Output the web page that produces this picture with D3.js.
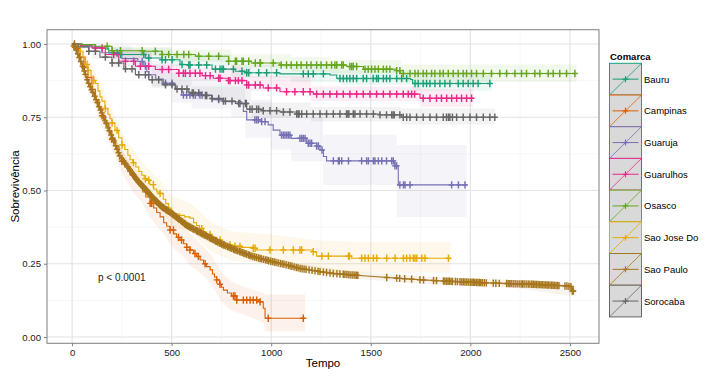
<!DOCTYPE html>
<html><head><meta charset="utf-8">
<script src="https://cdn.jsdelivr.net/npm/d3@7"></script>
<style>body{margin:0;background:#fff}svg{display:block;font-family:"Liberation Sans",Arial,sans-serif}</style>
</head><body><svg id="c" width="705" height="382"></svg>
<script>
// ---------- DATA ----------
const groups = ["Bauru","Campinas","Guaruja","Guarulhos","Osasco","Sao Jose Do","Sao Paulo","Sorocaba"];
const colors = ["#1B9E77","#D95F02","#7570B3","#E7298A","#66A61E","#E6AB02","#A6761D","#666666"];
const xTicks = [0,500,1000,1500,2000,2500];
const yTicks = [0,0.25,0.5,0.75,1];
const pText = "p < 0.0001";

// survival steps [time, survival]
const bauruSurv = [[0,1],[50,0.998],[117,0.986],[184,0.969],[234,0.964],[368,0.952],[452,0.946],[542,0.93],[586,0.928],[703,0.914],[820,0.907],[877,0.902],[1044,0.898],[1295,0.894],[1329,0.882],[1700,0.879],[1710,0.865],[2107,0.865]];
const campinasSurv = [[0,1],[20,0.985],[40,0.955],[60,0.92],[80,0.885],[100,0.845],[117,0.81],[135,0.78],[150,0.755],[167,0.73],[185,0.7],[200,0.675],[217,0.65],[235,0.62],[250,0.6],[265,0.58],[280,0.565],[291,0.553],[310,0.54],[325,0.53],[341,0.519],[355,0.495],[370,0.478],[392,0.456],[410,0.44],[425,0.425],[442,0.41],[460,0.39],[475,0.378],[492,0.365],[510,0.352],[525,0.34],[542,0.331],[560,0.318],[575,0.306],[592,0.297],[610,0.285],[625,0.275],[643,0.263],[660,0.25],[675,0.24],[693,0.229],[705,0.215],[715,0.205],[726,0.195],[740,0.18],[750,0.17],[760,0.16],[780,0.15],[800,0.14],[827,0.126],[944,0.12],[960,0.098],[969,0.064],[1170,0.064]];
const guarujaSurv = [[0,1],[50,0.99],[150,0.97],[250,0.95],[330,0.94],[360,0.925],[375,0.905],[385,0.895],[420,0.88],[458,0.866],[517,0.848],[550,0.826],[700,0.81],[760,0.803],[852,0.797],[860,0.77],[877,0.741],[950,0.735],[985,0.724],[1010,0.706],[1044,0.689],[1100,0.678],[1178,0.661],[1228,0.652],[1245,0.638],[1262,0.616],[1278,0.601],[1621,0.584],[1638,0.519],[1981,0.519]];
const guarulhosSurv = [[0,1],[40,0.995],[100,0.986],[167,0.964],[234,0.941],[318,0.924],[418,0.913],[536,0.9],[653,0.892],[709,0.883],[786,0.875],[877,0.86],[960,0.85],[1044,0.837],[1211,0.829],[1300,0.829],[1747,0.815],[2015,0.815]];
const osascoSurv = [[0,1],[50,0.997],[117,0.992],[200,0.977],[368,0.975],[452,0.964],[619,0.958],[786,0.941],[900,0.935],[1044,0.928],[1379,0.923],[1463,0.914],[1630,0.909],[1647,0.899],[2534,0.899]];
const saoJoseSurv = [[0,1],[15,0.997],[30,0.99],[42,0.975],[55,0.955],[67,0.93],[80,0.91],[95,0.89],[108,0.875],[117,0.865],[130,0.84],[140,0.82],[150,0.805],[165,0.78],[180,0.76],[190,0.745],[200,0.73],[215,0.705],[234,0.68],[250,0.655],[265,0.64],[280,0.62],[291,0.605],[305,0.595],[320,0.58],[335,0.565],[350,0.552],[362,0.54],[375,0.535],[390,0.52],[410,0.505],[425,0.495],[442,0.49],[458,0.47],[470,0.455],[485,0.44],[500,0.425],[515,0.42],[540,0.415],[565,0.41],[592,0.405],[610,0.39],[625,0.38],[640,0.37],[660,0.358],[676,0.35],[700,0.34],[726,0.331],[745,0.32],[760,0.314],[800,0.31],[850,0.306],[910,0.303],[927,0.297],[1211,0.291],[1228,0.276],[1404,0.269],[1900,0.269]];
const saoPauloSurv = [[0,1],[17,0.986],[50,0.93],[80,0.87],[117,0.816],[167,0.736],[217,0.656],[241,0.615],[284,0.577],[325,0.536],[370,0.503],[408,0.473],[450,0.445],[500,0.422],[576,0.381],[660,0.35],[743,0.32],[820,0.297],[910,0.274],[1000,0.258],[1078,0.246],[1145,0.234],[1245,0.223],[1310,0.217],[1400,0.212],[1479,0.208],[1647,0.2],[1760,0.195],[1863,0.191],[2000,0.187],[2149,0.183],[2315,0.18],[2483,0.174],[2505,0.172],[2508,0.157],[2530,0.157]];
const sorocabaSurv = [[0,1],[30,0.99],[84,0.975],[140,0.955],[200,0.935],[260,0.915],[318,0.895],[385,0.878],[452,0.861],[520,0.846],[586,0.833],[650,0.824],[703,0.814],[760,0.805],[820,0.797],[877,0.777],[960,0.772],[1044,0.768],[1128,0.761],[1546,0.758],[1655,0.75],[2123,0.75]];

// censor times
const bauruCens = [226,243,360,385,452,469,502,552,586,592,636,676,720,743,753,760,810,853,877,887,937,977,1027,1161,1186,1211,1262,1345,1362,1379,1395,1412,1429,1462,1479,1512,1529,1538,1563,1579,1596,1630,1655,1680,1722,1738,1763,1780,1797,1822,1847,1872,1897,1939,1964,1989,2014,2039,2098];
const campinasCens = [12,30,60,150,200,250,308,392,400,492,509,534,550,576,592,617,634,668,726,743,810,818,827,860,877,894,910,927,944,985,1161];
const guarujaCens = [352,368,385,469,502,559,575,592,609,619,642,653,736,918,927,935,952,969,1052,1061,1069,1078,1086,1094,1144,1153,1161,1170,1186,1195,1203,1228,1237,1255,1312,1337,1342,1354,1388,1454,1479,1488,1513,1521,1538,1555,1579,1605,1613,1621,1630,1646,1664,1672,1697,1906,1940,1973];
const guarulhosCens = [117,151,209,268,310,343,385,452,485,536,559,569,592,619,642,670,693,736,743,786,793,820,835,853,877,887,920,944,985,1027,1077,1119,1161,1195,1228,1262,1295,1329,1362,1395,1429,1462,1496,1529,1563,1596,1630,1663,1688,1705,1720,1763,1797,1830,1855,1881,1906,1931,1956,1981,2006];
const osascoCens = [176,201,243,352,418,452,485,527,561,586,636,686,736,786,820,826,853,860,887,920,944,946,1010,1050,1077,1100,1128,1150,1178,1200,1228,1250,1278,1303,1320,1329,1354,1362,1395,1404,1412,1429,1471,1487,1504,1521,1538,1563,1579,1596,1630,1646,1663,1697,1722,1738,1763,1780,1805,1822,1847,1864,1889,1914,1939,1964,1981,2006,2031,2065,2106,2148,2182,2224,2257,2282,2324,2349,2391,2416,2449,2483,2525];
const saoJoseCens = [75,109,167,201,226,251,308,368,385,408,442,651,693,743,760,793,818,843,910,919,994,1061,1111,1144,1153,1211,1254,1287,1388,1393,1454,1471,1488,1513,1530,1580,1622,1664,1680,1697,1714,1722,1731,1756,1772,1890];
const saoPauloCens = [8,14,21,29,36,44,53,61,67,76,83,91,98,104,113,121,127,136,143,149,158,166,171,181,187,196,203,209,219,226,233,239,249,256,263,269,279,286,291,301,305,307,312,316,318,323,327,331,334,337,342,346,349,353,356,359,363,369,372,376,379,383,386,391,394,397,401,406,409,413,416,421,424,427,431,436,439,443,447,451,455,459,464,471,475,479,485,491,496,502,505,509,515,521,525,531,535,538,545,551,556,562,566,569,575,581,585,591,596,602,607,611,618,626,631,637,644,651,657,663,668,674,681,689,694,699,706,713,719,724,731,739,745,751,758,764,772,781,788,794,802,811,817,824,832,841,848,856,863,869,877,886,892,899,908,917,926,936,944,951,961,971,979,987,997,1006,1015,1024,1035,1046,1055,1064,1075,1086,1095,1104,1115,1126,1135,1145,1155,1165,1175,1190,1205,1220,1235,1245,1262,1278,1295,1312,1330,1345,1362,1370,1380,1390,1400,1410,1420,1428,1435,1580,1630,1645,1670,1705,1747,1765,1815,1830,1865,1872,1880,1888,1895,1903,1910,1925,1935,1948,1957,1965,1973,1982,1991,2000,2008,2015,2022,2030,2038,2045,2052,2060,2070,2080,2115,2128,2145,2182,2190,2198,2205,2215,2225,2235,2245,2255,2262,2270,2280,2290,2295,2305,2310,2318,2325,2332,2340,2348,2355,2362,2370,2378,2385,2392,2400,2408,2415,2422,2430,2438,2445,2475,2485,2495,2505,2512,2517];
const sorocabaCens = [84,117,167,201,234,268,301,335,368,402,435,469,502,527,552,577,603,609,636,670,676,703,736,760,770,803,837,843,870,875,893,904,927,937,960,994,1027,1061,1094,1128,1135,1140,1153,1178,1211,1245,1278,1312,1345,1378,1385,1390,1412,1420,1446,1479,1513,1546,1579,1605,1612,1618,1646,1663,1680,1697,1730,1763,1797,1830,1864,1880,1890,1897,1910,1931,1964,1998,2031,2065,2098,2123];

// confidence bands [time, lower, upper]
const bauruCI = [[0,1,1],[200,0.95,0.985],[500,0.925,0.965],[800,0.885,0.93],[1100,0.87,0.925],[1350,0.86,0.91],[1710,0.84,0.895],[2107,0.84,0.895]];
const campinasCI = [[0,1,1],[50,0.91,0.97],[100,0.81,0.88],[150,0.72,0.79],[200,0.64,0.71],[250,0.56,0.64],[300,0.5,0.59],[350,0.46,0.55],[400,0.4,0.5],[450,0.36,0.46],[500,0.31,0.42],[550,0.28,0.385],[600,0.24,0.35],[650,0.215,0.315],[700,0.18,0.28],[750,0.12,0.22],[800,0.09,0.19],[850,0.08,0.175],[960,0.05,0.15],[970,0.02,0.145],[1170,0.02,0.145]];
const guarujaCI = [[0,1,1],[100,0.95,0.995],[300,0.9,0.975],[400,0.85,0.94],[500,0.8,0.9],[600,0.78,0.88],[800,0.75,0.86],[870,0.68,0.81],[1000,0.64,0.78],[1100,0.6,0.75],[1260,0.52,0.69],[1630,0.41,0.655],[1981,0.41,0.655]];
const guarulhosCI = [[0,1,1],[200,0.95,0.98],[400,0.895,0.93],[600,0.875,0.92],[900,0.84,0.89],[1200,0.805,0.855],[1750,0.785,0.845],[2015,0.785,0.845]];
const osascoCI = [[0,1,1],[200,0.96,0.99],[500,0.94,0.98],[800,0.92,0.965],[1100,0.905,0.955],[1300,0.9,0.945],[1650,0.87,0.93],[2534,0.865,0.93]];
const saoJoseCI = [[0,1,1],[50,0.93,0.99],[100,0.85,0.93],[150,0.77,0.85],[200,0.69,0.78],[250,0.61,0.7],[300,0.55,0.645],[350,0.5,0.6],[400,0.46,0.56],[450,0.43,0.53],[500,0.38,0.48],[600,0.355,0.455],[700,0.29,0.39],[800,0.26,0.36],[1000,0.25,0.35],[1230,0.225,0.33],[1400,0.22,0.325],[1900,0.22,0.325]];
const saoPauloCI = [[0,1,1],[100,0.83,0.86],[200,0.665,0.7],[300,0.545,0.575],[400,0.462,0.49],[500,0.41,0.435],[700,0.322,0.345],[900,0.265,0.29],[1100,0.23,0.255],[1400,0.2,0.225],[1800,0.18,0.205],[2200,0.17,0.195],[2500,0.14,0.18],[2530,0.14,0.18]];
const sorocabaCI = [[0,1,1],[200,0.92,0.95],[400,0.855,0.895],[600,0.81,0.855],[900,0.75,0.8],[1200,0.735,0.785],[1650,0.725,0.78],[2123,0.725,0.78]];

const survData = [bauruSurv,campinasSurv,guarujaSurv,guarulhosSurv,osascoSurv,saoJoseSurv,saoPauloSurv,sorocabaSurv];
const censData = [bauruCens,campinasCens,guarujaCens,guarulhosCens,osascoCens,saoJoseCens,saoPauloCens,sorocabaCens];
const ciData = [bauruCI,campinasCI,guarujaCI,guarulhosCI,osascoCI,saoJoseCI,saoPauloCI,sorocabaCI];
const smooth = [false,true,false,false,false,true,true,false];

// ---------- DRAW ----------
const svg = d3.select("#c");
const L=47, R=599, T=29.7, B=343.3;
const x = d3.scaleLinear().domain([-126,2646]).range([L,R]);
const y = d3.scaleLinear().domain([-0.0215,1.0487]).range([B,T]);

svg.append("rect").attr("width",705).attr("height",382).attr("fill","#fff");
const g = svg.append("g");
const xMinor=[250,750,1250,1750,2250], yMinor=[0.125,0.375,0.625,0.875];
g.selectAll(".xm").data(xMinor).enter().append("line").attr("x1",d=>x(d)).attr("x2",d=>x(d)).attr("y1",T).attr("y2",B).attr("stroke","#f2f2f2").attr("stroke-width",0.6);
g.selectAll(".ym").data(yMinor).enter().append("line").attr("y1",d=>y(d)).attr("y2",d=>y(d)).attr("x1",L).attr("x2",R).attr("stroke","#f2f2f2").attr("stroke-width",0.6);
g.selectAll(".xg").data(xTicks).enter().append("line").attr("x1",d=>x(d)).attr("x2",d=>x(d)).attr("y1",T).attr("y2",B).attr("stroke","#e3e3e3").attr("stroke-width",1.1);
g.selectAll(".yg").data(yTicks).enter().append("line").attr("y1",d=>y(d)).attr("y2",d=>y(d)).attr("x1",L).attr("x2",R).attr("stroke","#e3e3e3").attr("stroke-width",1.1);

svg.append("clipPath").attr("id","pc").append("rect").attr("x",L).attr("y",T).attr("width",R-L).attr("height",B-T);
const plot = svg.append("g").attr("clip-path","url(#pc)");

ciData.forEach((ci,i)=>{
  const area = d3.area().x(d=>x(d[0])).y0(d=>y(d[1])).y1(d=>y(d[2])).curve(smooth[i]?d3.curveLinear:d3.curveStepAfter);
  plot.append("path").attr("d",area(ci)).attr("fill",colors[i]).attr("fill-opacity",0.08);
});
function survAt(i,t){
  const s = survData[i];
  if(i===6){
    for(let k=1;k<s.length;k++){ if(s[k][0]>=t){const a=s[k-1],b=s[k];return a[1]+(b[1]-a[1])*(t-a[0])/(b[0]-a[0]);} }
    return s[s.length-1][1];
  }
  let v=s[0][1]; for(const p of s){ if(p[0]<=t) v=p[1]; else break; } return v;
}
survData.forEach((s,i)=>{
  const line = d3.line().x(d=>x(d[0])).y(d=>y(d[1])).curve(i===6?d3.curveLinear:d3.curveStepAfter);
  plot.append("path").attr("d",line(s)).attr("fill","none").attr("stroke",colors[i]).attr("stroke-width",1.1);
  plot.selectAll(null).data(censData[i]).enter().append("path")
    .attr("transform",t=>`translate(${x(t)},${y(survAt(i,t))})`)
    .attr("d","M-3,0H3M0,-3.7V3.7").attr("stroke",colors[i]).attr("stroke-width",1.45).attr("fill","none");
});

svg.append("rect").attr("x",L).attr("y",T).attr("width",R-L).attr("height",B-T).attr("fill","none").attr("stroke","#7f7f7f").attr("stroke-width",1);

const xAxis = d3.axisBottom(x).tickValues(xTicks).tickSize(3).tickPadding(3).tickFormat(d3.format("d"));
const yAxis = d3.axisLeft(y).tickValues(yTicks).tickSize(3).tickPadding(3).tickFormat(d3.format(".2f"));
const gx = svg.append("g").attr("transform",`translate(0,${B})`).call(xAxis);
const gy = svg.append("g").attr("transform",`translate(${L},0)`).call(yAxis);
[gx,gy].forEach(a=>{a.select(".domain").remove();a.selectAll("line").attr("stroke","#7f7f7f");a.selectAll("text").attr("fill","#1a1a1a").style("font-size","9.6px");});

svg.append("text").attr("x",(L+R)/2).attr("y",367).attr("text-anchor","middle").style("font-size","11.5px").attr("fill","#000").text("Tempo");
svg.append("text").attr("transform",`translate(19,${(T+B)/2}) rotate(-90)`).attr("text-anchor","middle").style("font-size","11.5px").attr("fill","#000").text("Sobrevivência");
svg.append("text").attr("x",x(130)).attr("y",y(0.19)).style("font-size","10px").attr("fill","#1a1a1a").text(pText);

const lg = svg.append("g");
lg.append("text").attr("x",610).attr("y",60).style("font-size","9.5px").style("font-weight","bold").attr("fill","#000").text("Comarca");
const kx=609.5, ky=63.3, kw=32, kh=31.7;
groups.forEach((name,i)=>{
  const yy = ky + i*kh;
  lg.append("rect").attr("x",kx).attr("y",yy).attr("width",kw).attr("height",kh).attr("fill","#d9d9d9").attr("stroke",colors[i]).attr("stroke-width",1);
  lg.append("line").attr("x1",kx).attr("y1",yy+kh).attr("x2",kx+kw).attr("y2",yy).attr("stroke",colors[i]).attr("stroke-width",0.8);
  lg.append("line").attr("x1",kx+3).attr("x2",kx+kw-3).attr("y1",yy+kh/2).attr("y2",yy+kh/2).attr("stroke",colors[i]).attr("stroke-width",1);
  lg.append("path").attr("transform",`translate(${kx+kw/2},${yy+kh/2})`).attr("d","M-3,0H3M0,-3V3").attr("stroke",colors[i]).attr("stroke-width",1.2);
  lg.append("text").attr("x",644).attr("y",yy+kh/2+3.5).style("font-size","9.5px").attr("fill","#000").text(name);
});
</script></body></html>
